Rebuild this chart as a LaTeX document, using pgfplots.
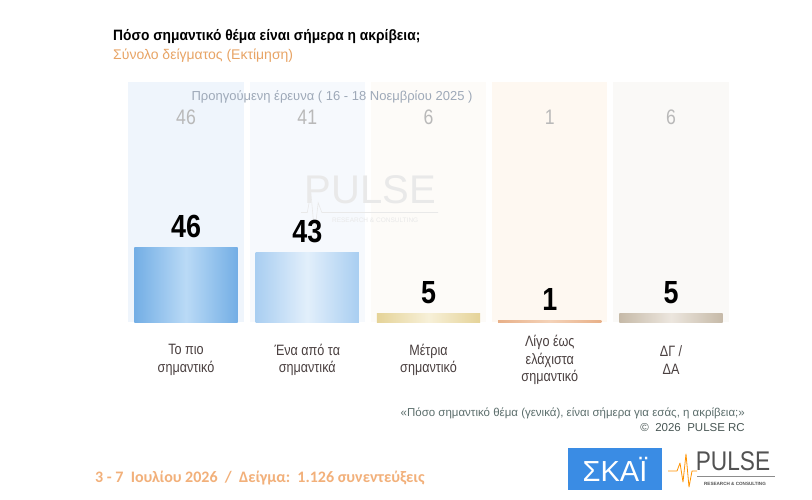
\documentclass[border=0pt]{standalone}
\usepackage{pgfplots}
\pgfplotsset{compat=1.18}
\usepackage{fontspec}
\setmainfont{Liberation Sans}
\newfontfamily\cond[FakeStretch=0.84]{Liberation Sans}
\newfontfamily\condt[FakeStretch=0.92]{Liberation Sans}
\newfontfamily\calib{Carlito}

\definecolor{subor}{HTML}{E8A465}
\definecolor{prevgray}{HTML}{B9B9B9}
\definecolor{prevtitle}{HTML}{9EA9B8}
\definecolor{catlab}{HTML}{4A4040}
\definecolor{notecol}{HTML}{5C6E6C}
\definecolor{datecol}{HTML}{F2B07A}
\definecolor{skai}{HTML}{3A8CE4}
\definecolor{wm}{HTML}{E9E9E9}
\definecolor{bgA}{HTML}{EFF5FC}
\definecolor{bgB}{HTML}{F6F9FD}
\definecolor{bgC}{HTML}{FDFBF8}
\definecolor{bgD}{HTML}{FEF8F1}
\definecolor{bgE}{HTML}{FAF9F7}

\pgfplotsset{
  curlabel/.style={nodes near coords,
    nodes near coords style={text=black, anchor=south, inner sep=0pt, yshift=10pt,
      font=\cond\bfseries\fontsize{32}{34}\selectfont}},
}

\begin{document}
\begin{tikzpicture}
\path[use as bounding box, fill=white] (0,0) rectangle (812pt,499pt);

% title and subtitle
\node[anchor=west, inner sep=0pt, font=\condt\bfseries\fontsize{15}{17}\selectfont] at (113pt,462pt)
  {Πόσο σημαντικό θέμα είναι σήμερα η ακρίβεια;};
\node[anchor=west, inner sep=0pt, text=subor, font=\fontsize{14}{16}\selectfont] at (113pt,443pt)
  {Σύνολο δείγματος (Εκτίμηση)};

\begin{axis}[
  at={(125.4pt,177pt)}, anchor=south west,
  scale only axis, width=606.25pt, height=240pt,
  xmin=-0.5, xmax=4.5, ymin=0, ymax=149,
  clip=false,
  /pgf/number format/assume math mode=true,
  axis line style={draw=none}, tick style={draw=none},
  ytick=\empty,
  xtick={0,1,2,3,4},
  xticklabels={{Το πιο\\σημαντικό},{Ένα από τα\\σημαντικά},{Μέτρια\\σημαντικό},{Λίγο έως\\ελάχιστα\\σημαντικό},{ΔΓ /\\ΔΑ}},
  xticklabel style={anchor=center, yshift=-38pt, align=center, text=catlab,
    font=\cond\fontsize{15}{17.5}\selectfont},
]
% column panels
\addplot[ybar, bar width=0.95, bar shift=0pt, draw=none, fill=bgA] coordinates {(0,149)};
\addplot[ybar, bar width=0.95, bar shift=0pt, draw=none, fill=bgB] coordinates {(1,149)};
\addplot[ybar, bar width=0.95, bar shift=0pt, draw=none, fill=bgC] coordinates {(2,149)};
\addplot[ybar, bar width=0.95, bar shift=0pt, draw=none, fill=bgD] coordinates {(3,149)};
\addplot[ybar, bar width=0.95, bar shift=0pt, draw=none, fill=bgE] coordinates {(4,149)};

% faint watermark
\node[text=wm, font=\fontsize{40}{40}\selectfont] at (axis cs:1.52,82) {PULSE};
\node[text=wm, font=\fontsize{6.5}{7}\selectfont] at (axis cs:1.56,63) {RESEARCH \& CONSULTING};
\draw[draw=wm, line width=0.6pt] (axis cs:0.95,68) -- (axis cs:1.0,68) -- (axis cs:1.03,80) -- (axis cs:1.06,55) -- (axis cs:1.09,74) -- (axis cs:1.12,68) -- (axis cs:2.08,68);

% current survey
\addplot[ybar, bar width=0.85, bar shift=0pt, draw=none,
  left color={rgb,255:red,115;green,174;blue,229},
  right color={rgb,255:red,115;green,174;blue,229},
  middle color={rgb,255:red,186;green,218;blue,246},
  curlabel] coordinates {(0,46)};
\addplot[ybar, bar width=0.85, bar shift=0pt, draw=none,
  left color={rgb,255:red,169;green,206;blue,241},
  right color={rgb,255:red,169;green,206;blue,241},
  middle color={rgb,255:red,226;green,239;blue,251},
  curlabel] coordinates {(1,43)};
\addplot[ybar, bar width=0.85, bar shift=0pt, draw=none,
  left color={rgb,255:red,229;green,211;blue,152},
  right color={rgb,255:red,229;green,211;blue,152},
  middle color={rgb,255:red,247;green,240;blue,216},
  curlabel] coordinates {(2,5)};
\addplot[ybar, bar width=0.85, bar shift=0pt, draw=none,
  left color={rgb,255:red,232;green,176;blue,136},
  right color={rgb,255:red,232;green,176;blue,136},
  middle color={rgb,255:red,244;green,210;blue,184},
  curlabel] coordinates {(3,1)};
\addplot[ybar, bar width=0.85, bar shift=0pt, draw=none,
  left color={rgb,255:red,198;green,186;blue,168},
  right color={rgb,255:red,198;green,186;blue,168},
  middle color={rgb,255:red,236;green,230;blue,222},
  curlabel] coordinates {(4,5)};

% previous survey (16 - 18 Nov 2025), shown as figures above the panels
\addplot[draw=none, mark=none, nodes near coords, point meta=explicit symbolic,
  nodes near coords style={anchor=center, text=prevgray,
    font=\cond\fontsize{21}{22}\selectfont}]
  coordinates {(0,127)[46] (1,127)[41] (2,127)[6] (3,127)[1] (4,127)[6]};
\end{axis}

\node[text=prevtitle, font=\fontsize{13}{14}\selectfont] at (332pt,402pt)
  {Προηγούμενη έρευνα ( 16 - 18 Νοεμβρίου 2025 )};

% notes
\node[anchor=east, inner sep=0pt, text=notecol, font=\fontsize{11.5}{13}\selectfont] at (745pt,86pt)
  {«Πόσο σημαντικό θέμα (γενικά), είναι σήμερα για εσάς, η ακρίβεια;»};
\node[anchor=east, inner sep=0pt, text=notecol!80!black, font=\fontsize{11.5}{13}\selectfont] at (745pt,71pt)
  {©\ \ 2026\ \ PULSE RC};

% fieldwork dates and sample
\node[anchor=west, inner sep=0pt, text=datecol, font=\calib\bfseries\fontsize{16}{18}\selectfont] at (95pt,21pt)
  {3 - 7\ \ Ιουλίου 2026\ \ /\ \ Δείγμα:\ \ 1.126 συνεντεύξεις};

% logos
\fill[skai] (568pt,9pt) rectangle (662pt,51pt);
\node[text=white, font=\fontsize{29}{30}\selectfont] at (615pt,30pt) {ΣΚΑΪ};
\node[text=black!68, font=\cond\fontsize{27}{28}\selectfont] at (733pt,38pt) {PULSE};
\node[text=black!68, font=\bfseries\fontsize{4.6}{5}\selectfont] at (735pt,15pt) {RESEARCH \& CONSULTING};
\draw[orange!85!yellow, line width=0.8pt, line join=round]
  (668pt,28pt) -- (677pt,28pt) -- (680pt,36pt) -- (683pt,17pt) -- (686pt,45pt) -- (689pt,12pt) -- (692pt,28pt) -- (697pt,28pt);
\draw[black!45, line width=0.4pt] (697pt,23pt) -- (775pt,23pt);
\end{tikzpicture}
\end{document}
